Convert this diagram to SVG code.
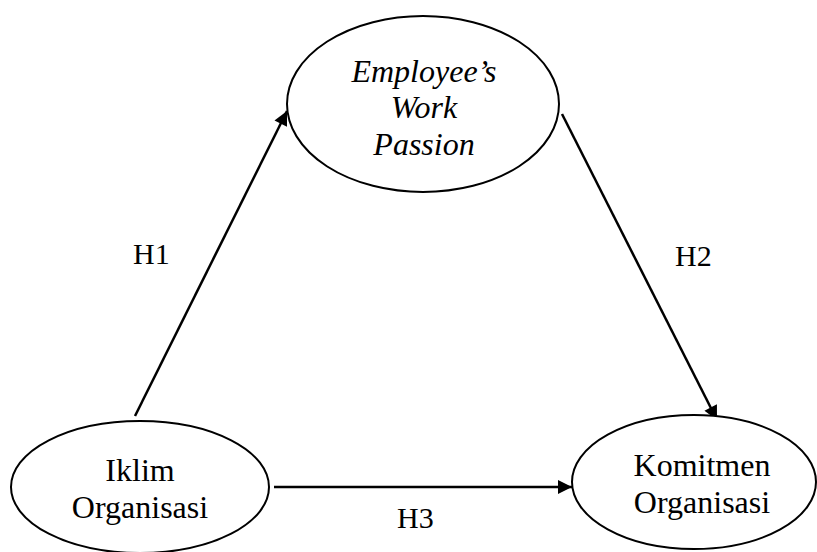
<svg xmlns="http://www.w3.org/2000/svg" width="817" height="552" viewBox="0 0 817 552">
<style>
.node{fill:#fff;stroke:#000;stroke-width:2}
.t{font-family:"Liberation Serif","Times New Roman",serif;font-size:32px;fill:#000;text-anchor:middle}
.i{font-style:italic}
.lbl{font-family:"Liberation Serif","Times New Roman",serif;font-size:30px;fill:#000}
.edge{stroke:#000;stroke-width:2.5;fill:none;marker-end:url(#ah)}
</style>
<defs>
<marker id="ah" viewBox="0 0 10 10" refX="10" refY="5" markerWidth="6.4" markerHeight="5.6" markerUnits="strokeWidth" orient="auto">
<path d="M0,0 L10,5 L0,10 z" fill="#000"/>
</marker>
</defs>
<rect width="817" height="552" fill="#fff"/>
<g id="connectors">
<line class="edge" x1="135" y1="416" x2="287" y2="111"/>
<line class="edge" x1="562" y1="114" x2="717" y2="420"/>
<line class="edge" x1="274" y1="487" x2="572" y2="487"/>
</g>
<g id="passion">
<ellipse class="node" cx="423" cy="104" rx="136" ry="88"/>
<text class="t i" x="424" y="82">Employee’s</text>
<text class="t i" x="424" y="118">Work</text>
<text class="t i" x="424" y="155">Passion</text>
</g>
<g id="iklim">
<ellipse class="node" cx="140" cy="487" rx="129" ry="66"/>
<text class="t" x="140" y="481">Iklim</text>
<text class="t" x="140" y="518">Organisasi</text>
</g>
<g id="komitmen">
<ellipse class="node" cx="694" cy="482" rx="122" ry="67"/>
<text class="t" x="702" y="476">Komitmen</text>
<text class="t" x="702" y="513">Organisasi</text>
</g>
<g id="labels">
<text class="lbl" x="133" y="264">H1</text>
<text class="lbl" x="675" y="266">H2</text>
<text class="lbl" x="397" y="528">H3</text>
</g>
</svg>
